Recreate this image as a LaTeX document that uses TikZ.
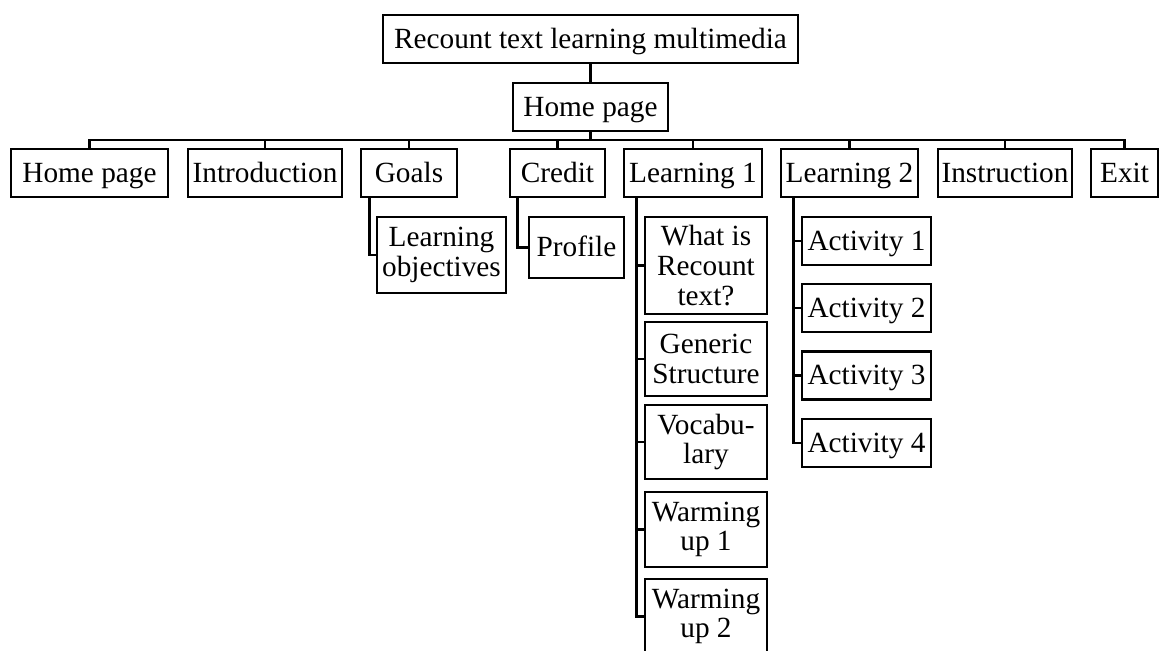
\documentclass[tikz,border=0pt]{standalone}
\usepackage{fontspec}
\setmainfont{Liberation Serif}
\usepackage{tikz}

\begin{document}
\begin{tikzpicture}[
    x=0.41667pt, y=-0.41667pt,
    font=\fontsize{12.2}{12.4}\selectfont,
    box/.style={draw, line width=1.2pt, inner sep=1pt, align=center, minimum height=20pt},
    onebox/.style={box, text height=10pt, text depth=2.5pt},
    kidA/.style={box, minimum width=50.8pt},
    kidB/.style={onebox, minimum width=53.75pt},
    link/.style={line width=1.2pt},
]
\useasboundingbox (0,0) rectangle (1159,651);

% --- Racine ---
\node[onebox, minimum width=172.9pt] (top) at (590.5, 39) {Recount text learning multimedia};
\node[onebox, minimum width=64.6pt] (home) at (590.5, 107) {Home page};
\coordinate (bus) at (590.5, 140);

% --- Menu principal ---
\node[onebox, minimum width=65.4pt] (hpage)  at (89.5, 173)   {Home page};
\node[onebox, minimum width=64.2pt] (intro)  at (265, 173)    {Introduction};
\node[onebox, minimum width=40pt]   (goals)  at (409, 173)    {Goals};
\node[onebox, minimum width=39.6pt] (credit) at (557.5, 173)  {Credit};
\node[onebox, minimum width=57.5pt] (learnA) at (693, 173)    {Learning 1};
\node[onebox, minimum width=57.1pt] (learnB) at (849.5, 173)  {Learning 2};
\node[onebox, minimum width=55.8pt] (instr)  at (1005, 173)   {Instruction};
\node[onebox, minimum width=27.9pt] (exitb)  at (1124.5, 173) {Exit};

% --- Sous-pages Goals / Credit ---
\node[box, minimum width=53.75pt, minimum height=31.7pt] (lobj) at (441.5, 255) {Learning\\objectives};
\node[onebox, minimum width=39.6pt, minimum height=25.4pt] (profile) at (576.5, 247.5) {Profile};

% --- Sous-pages Learning 1 ---
\node[kidA, minimum height=40.4pt]  (whatis)  at (706, 265.5) {What is\\Recount\\text?};
\node[kidA, minimum height=30.8pt]  (generic) at (706, 359)   {Generic\\Structure};
\node[kidA, minimum height=30.8pt]  (vocab)   at (706, 442)   {Vocabu-\\lary};
\node[kidA, minimum height=31.25pt] (warmA)   at (706, 529.5) {Warming\\up 1};
\node[kidA, minimum height=31.25pt] (warmB)   at (706, 616.5) {Warming\\up 2};

% --- Sous-pages Learning 2 ---
\node[kidB] (actA) at (866.5, 241)   {Activity 1};
\node[kidB] (actB) at (866.5, 308)   {Activity 2};
\node[kidB] (actC) at (866.5, 375.5) {Activity 3};
\node[kidB] (actD) at (866.5, 443)   {Activity 4};

% --- Liens ---
\draw[link] (top) -- (home);
\foreach \k in {hpage, intro, goals, credit, learnA, learnB, instr, exitb} {
  \draw[link] (home.south) -- (bus) -| (\k.north);
}
\draw[link] ([xshift=4.17pt]goals.south west) |- (lobj.west);
\draw[link] ([xshift=3.75pt]credit.south west) |- (profile.west);
\foreach \k in {whatis, generic, vocab, warmA, warmB} {
  \draw[link] ([xshift=5.83pt]learnA.south west) |- (\k.west);
}
\foreach \k in {actA, actB, actC, actD} {
  \draw[link] ([xshift=5.83pt]learnB.south west) |- (\k.west);
}

\end{tikzpicture}
\end{document}
